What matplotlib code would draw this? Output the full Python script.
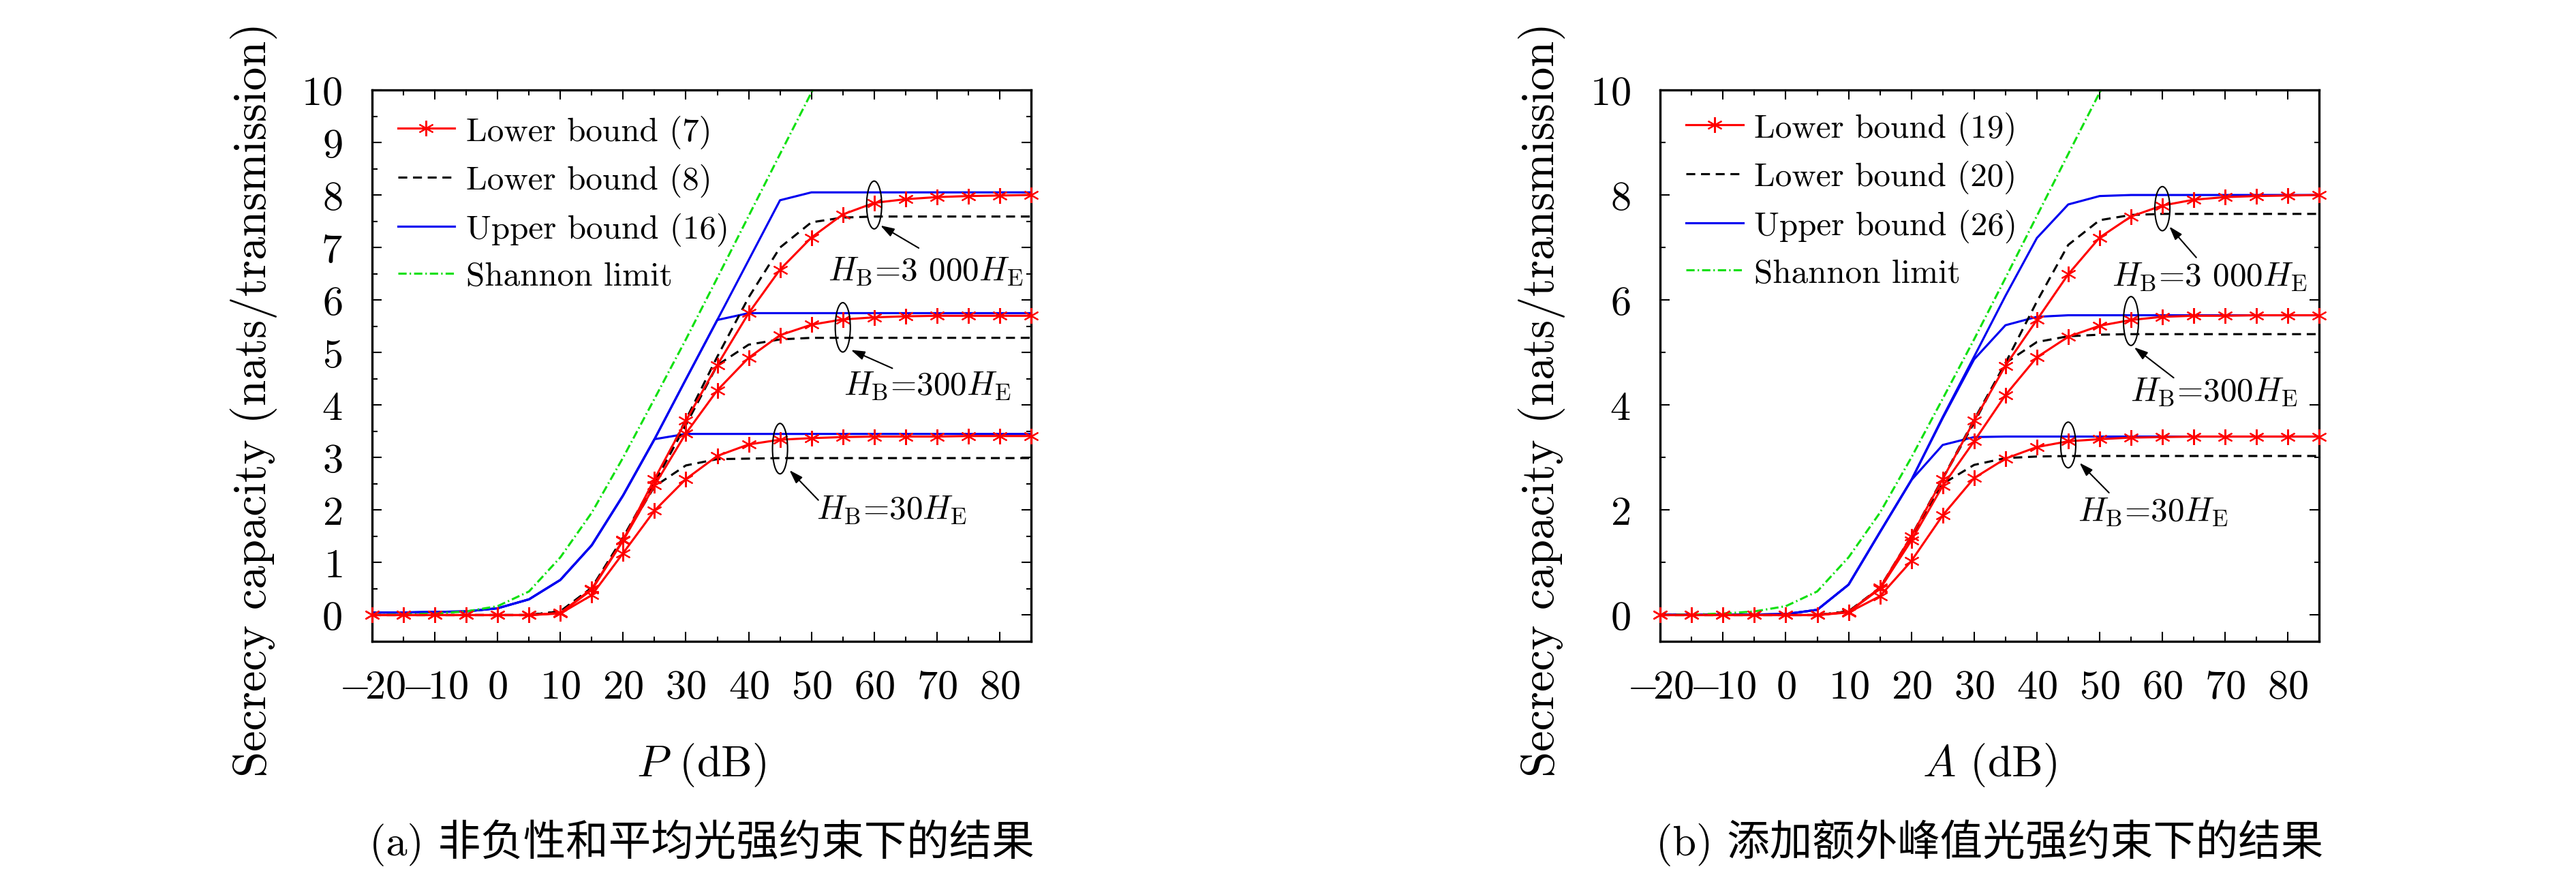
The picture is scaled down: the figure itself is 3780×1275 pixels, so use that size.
import numpy as np
import matplotlib
matplotlib.use('Agg')
import matplotlib.pyplot as plt
from matplotlib.patches import Ellipse
from matplotlib.ticker import MultipleLocator, FuncFormatter
from matplotlib.lines import Line2D

plt.rcParams['font.family'] = 'serif'
plt.rcParams['font.serif'] = ['cmr10']
plt.rcParams['mathtext.fontset'] = 'cm'
plt.rcParams['axes.formatter.use_mathtext'] = True
plt.rcParams['axes.unicode_minus'] = True

# x axis (dB), same grid for both panels
x_db = [-20, -15, -10, -5, 0, 5, 10, 15, 20, 25, 30, 35, 40, 45, 50,
        55, 60, 65, 70, 75, 80, 85]

# Shannon limit (only the part below the top of the axes)
x_shannon = [-20, -15, -10, -5, 0, 5, 10, 15, 20, 25, 30, 35, 40, 45, 50, 55]
shannon = [0.0, 0.01, 0.03, 0.07, 0.17, 0.45, 1.10, 1.95, 3.00, 4.12,
           5.25, 6.42, 7.60, 8.78, 9.95, 11.10]

# (a) P constraint
a_red_30 = [0, 0, 0, 0, 0, 0, 0.03, 0.38, 1.18, 1.99, 2.59, 3.03, 3.25, 3.34,
            3.37, 3.39, 3.40, 3.40, 3.40, 3.41, 3.41, 3.41]
a_red_300 = [0, 0, 0, 0, 0, 0, 0.04, 0.48, 1.42, 2.47, 3.46, 4.28, 4.90, 5.33,
             5.53, 5.63, 5.67, 5.69, 5.70, 5.70, 5.70, 5.70]
a_red_3000 = [0, 0, 0, 0, 0, 0, 0.04, 0.50, 1.43, 2.59, 3.70, 4.76, 5.75, 6.58,
              7.19, 7.63, 7.85, 7.92, 7.96, 7.98, 7.99, 8.00]
a_blk_30 = [0, 0, 0, 0, 0, 0, 0.07, 0.50, 1.45, 2.45, 2.85, 2.97, 2.98, 2.99,
            2.99, 2.99, 2.99, 2.99, 2.99, 2.99, 2.99, 2.99]
a_blk_300 = [0, 0, 0, 0, 0, 0, 0.07, 0.52, 1.47, 2.52, 3.62, 4.76, 5.15, 5.25,
             5.28, 5.28, 5.28, 5.28, 5.28, 5.28, 5.28, 5.28]
a_blk_3000 = [0, 0, 0, 0, 0, 0, 0.07, 0.52, 1.48, 2.55, 3.72, 4.92, 6.05, 7.00,
              7.48, 7.57, 7.59, 7.59, 7.59, 7.59, 7.59, 7.59]
a_blu_30 = [0.05, 0.05, 0.06, 0.07, 0.13, 0.30, 0.67, 1.33, 2.28, 3.35, 3.45,
            3.45, 3.45, 3.45, 3.45, 3.45, 3.45, 3.45, 3.45, 3.45, 3.45, 3.45]
a_blu_300 = [0.05, 0.05, 0.06, 0.07, 0.13, 0.30, 0.67, 1.33, 2.28, 3.35, 4.49,
             5.62, 5.75, 5.75, 5.75, 5.75, 5.75, 5.75, 5.75, 5.75, 5.75, 5.75]
a_blu_3000 = [0.05, 0.05, 0.06, 0.07, 0.13, 0.30, 0.67, 1.33, 2.28, 3.35, 4.49,
              5.62, 6.76, 7.90, 8.05, 8.05, 8.05, 8.05, 8.05, 8.05, 8.05, 8.05]

# (b) extra peak constraint
b_red_30 = [0, 0, 0, 0, 0, 0, 0.05, 0.36, 1.03, 1.90, 2.61, 2.98, 3.20, 3.31,
            3.35, 3.38, 3.39, 3.40, 3.40, 3.40, 3.40, 3.40]
b_red_300 = [0, 0, 0, 0, 0, 0, 0.06, 0.50, 1.42, 2.46, 3.31, 4.19, 4.91, 5.30,
             5.51, 5.62, 5.68, 5.70, 5.70, 5.71, 5.71, 5.71]
b_red_3000 = [0, 0, 0, 0, 0, 0, 0.06, 0.52, 1.50, 2.59, 3.70, 4.75, 5.62, 6.49,
              7.19, 7.59, 7.80, 7.91, 7.96, 7.98, 7.99, 8.00]
b_blk_30 = [0, 0, 0, 0, 0, 0, 0.07, 0.50, 1.45, 2.50, 2.86, 2.99, 3.02, 3.03,
            3.03, 3.03, 3.03, 3.03, 3.03, 3.03, 3.03, 3.03]
b_blk_300 = [0, 0, 0, 0, 0, 0, 0.07, 0.52, 1.50, 2.60, 3.66, 4.80, 5.20, 5.31,
             5.34, 5.35, 5.35, 5.35, 5.35, 5.35, 5.35, 5.35]
b_blk_3000 = [0, 0, 0, 0, 0, 0, 0.07, 0.52, 1.50, 2.60, 3.72, 4.80, 5.97, 7.05,
              7.52, 7.62, 7.64, 7.64, 7.64, 7.64, 7.64, 7.64]
b_blu_30 = [0.01, 0.01, 0.01, 0.01, 0.02, 0.10, 0.58, 1.58, 2.57, 3.24, 3.39,
            3.40, 3.40, 3.40, 3.40, 3.40, 3.40, 3.40, 3.40, 3.40, 3.40, 3.40]
b_blu_300 = [0.01, 0.01, 0.01, 0.01, 0.02, 0.10, 0.58, 1.58, 2.57, 3.75, 4.87,
             5.52, 5.68, 5.71, 5.71, 5.71, 5.71, 5.71, 5.71, 5.71, 5.71, 5.71]
b_blu_3000 = [0.01, 0.01, 0.01, 0.01, 0.02, 0.10, 0.58, 1.58, 2.57, 3.77, 4.92,
              6.08, 7.18, 7.82, 7.98, 8.00, 8.00, 8.00, 8.00, 8.00, 8.00, 8.00]

xtick_values = [-20, -10, 0, 10, 20, 30, 40, 50, 60, 70, 80]
legend_a = ['Lower bound (7)', 'Lower bound (8)', 'Upper bound (16)', 'Shannon limit']
legend_b = ['Lower bound (19)', 'Lower bound (20)', 'Upper bound (26)', 'Shannon limit']
ratio_labels = [r'$H_{\mathrm{B}}$=3 000$H_{\mathrm{E}}$',
                r'$H_{\mathrm{B}}$=300$H_{\mathrm{E}}$',
                r'$H_{\mathrm{B}}$=30$H_{\mathrm{E}}$']
ylabel = 'Secrecy capacity (nats/transmission)'
caption_a = '(a) 非负性和平均光强约束下的结果'
caption_b = '(b) 添加额外峰值光强约束下的结果'

RED = '#ff0000'
BLUE = '#0000f0'
GREEN = '#10e010'
STAR = (6, 2, 0)
LW = 0.75


def xfmt(v, pos):
    v = int(round(v))
    if v < 0:
        return r'$-\!%d$' % (-v)
    return r'$%d$' % v


def draw_panel(ax, reds, blacks, blues, labels, xlab, ystep, notes, leg_y):
    for yb in blues:
        ax.plot(x_db, yb, color=BLUE, lw=LW)
    for yk in blacks:
        ax.plot(x_db, yk, color='k', lw=LW, dashes=(4.2, 2.7))
    ax.plot(x_shannon, shannon, color=GREEN, lw=LW, dashes=(3.9, 1.4, 0.7, 1.4))
    for yr in reds:
        ax.plot(x_db, yr, color=RED, lw=LW, marker=STAR, ms=5.5, mew=0.5,
                clip_on=False, zorder=4)

    handles = [Line2D([], [], color=RED, lw=LW, marker=STAR, ms=5.5, mew=0.5),
               Line2D([], [], color='k', lw=LW, dashes=(4.2, 2.7)),
               Line2D([], [], color=BLUE, lw=LW),
               Line2D([], [], color=GREEN, lw=LW, dashes=(3.9, 1.4, 0.7, 1.4))]
    ax.legend(handles, labels, loc='upper left', bbox_to_anchor=(0.039, leg_y),
              frameon=False, fontsize=11.8, handlelength=1.7, handletextpad=0.33,
              labelspacing=0.46, borderpad=0, borderaxespad=0, numpoints=1)

    for (ex, ey, eh), (tx, ty), (hx, hy), (lx, ly), lab in notes:
        ax.add_patch(Ellipse((ex, ey), 2.4, eh, fill=False, lw=0.5, ec='k', zorder=5))
        ax.annotate('', xy=(hx, hy), xytext=(tx, ty),
                    arrowprops=dict(arrowstyle='-|>,head_length=0.4,head_width=0.13',
                                    color='k', lw=0.5, shrinkA=0, shrinkB=0,
                                    mutation_scale=10))
        ax.text(lx, ly, lab, fontsize=11.8, ha='center', va='center')

    ax.set_xlim(-20, 85)
    ax.set_ylim(-0.5, 10)
    ax.xaxis.set_minor_locator(MultipleLocator(5))
    ax.set_xticks(xtick_values)
    ax.xaxis.set_major_formatter(FuncFormatter(xfmt))
    ax.yaxis.set_major_locator(MultipleLocator(ystep))
    ax.yaxis.set_minor_locator(MultipleLocator(ystep / 2))
    ax.tick_params(which='both', direction='in', top=True, right=True, width=0.5)
    ax.tick_params(which='major', length=3.4, labelsize=14.5)
    ax.tick_params(which='minor', length=1.8)
    ax.tick_params(axis='x', pad=10)
    ax.tick_params(axis='y', pad=10.5)
    for s in ax.spines.values():
        s.set_linewidth(0.8)
    ax.set_xlabel(xlab, fontsize=15.5)
    ax.set_ylabel(ylabel, fontsize=16.5)
    ax.xaxis.set_label_coords(0.5, -0.18)
    ax.yaxis.set_label_coords(-0.144, 0.44)


fig = plt.figure(figsize=(12.6, 4.2533), dpi=300)
ax1 = fig.add_axes([0.14444, 0.26176, 0.25582, 0.63401])
ax2 = fig.add_axes([0.64452, 0.26176, 0.25582, 0.63401])

notes_a = [((60, 7.81, 0.91), (67.1, 6.99), (61.0, 7.42), (68.2, 6.56), ratio_labels[0]),
           ((55, 5.48, 0.94), (62.9, 4.70), (56.3, 5.05), (68.5, 4.38), ratio_labels[1]),
           ((45, 3.17, 0.96), (51.1, 2.19), (46.5, 2.76), (62.8, 2.01), ratio_labels[2])]
notes_b = [((60, 7.74, 0.84), (65.4, 6.81), (61.1, 7.40), (67.5, 6.45), ratio_labels[0]),
           ((55, 5.60, 0.93), (61.8, 4.52), (55.5, 5.10), (68.2, 4.26), ratio_labels[1]),
           ((45, 3.24, 0.87), (51.5, 2.33), (46.8, 2.90), (58.5, 1.98), ratio_labels[2])]

draw_panel(ax1, [a_red_30, a_red_300, a_red_3000], [a_blk_30, a_blk_300, a_blk_3000],
           [a_blu_30, a_blu_300, a_blu_3000], legend_a, r'$P$ (dB)', 1, notes_a, 0.955)
draw_panel(ax2, [b_red_30, b_red_300, b_red_3000], [b_blk_30, b_blk_300, b_blk_3000],
           [b_blu_30, b_blu_300, b_blu_3000], legend_b, r'$A$ (dB)', 2, notes_b, 0.961)

for ax, cap in ((ax1, caption_a), (ax2, caption_b)):
    p = ax.get_position()
    fig.text(p.x0 + p.width / 2, 0.0306, cap, ha='center', va='center',
             fontsize=15, family=['cmr10', 'Noto Sans CJK SC'])

fig.savefig('out.png', dpi=300)
